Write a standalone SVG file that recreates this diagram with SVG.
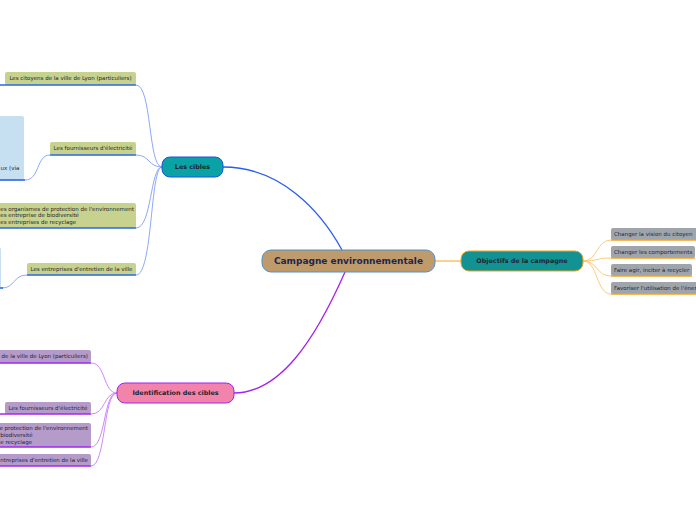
<svg xmlns="http://www.w3.org/2000/svg" width="696" height="520" viewBox="0 0 696 520">
<style>
text{font-family:"DejaVu Sans","Liberation Sans",sans-serif;fill:#1e2630}
.t{font-size:5.5px}
.mb{font-size:6.4px;font-weight:bold}
.ol{fill:#c6d28e}
.gr{fill:#a0a5ab}
.pu{fill:#b49bca}
.lb{fill:#c6dff1}
.ub{stroke:#2a66e8;stroke-width:1.6;fill:none}
.uo{stroke:#f5a31a;stroke-width:1.6;fill:none}
.up{stroke:#a326f0;stroke-width:1.6;fill:none}
.cb{stroke:#7f9ff8;stroke-width:0.9;fill:none}
.co{stroke:#fcc56a;stroke-width:0.9;fill:none}
.cp{stroke:#c87cf6;stroke-width:0.9;fill:none}
</style>
<rect width="696" height="520" fill="#ffffff"/>
<g id="connectors">
<path d="M223,167 C280,167 320,210 342,250" stroke="#2a5cf0" stroke-width="1.3" fill="none"/>
<path d="M345,272 C315,340 280,393 234,393" stroke="#a322ee" stroke-width="1.3" fill="none"/>
<path d="M435,261 L461,261" stroke="#f5a31a" stroke-width="1" fill="none"/>
<path class="cb" d="M162,167 C148,167 152,85 136,85"/>
<path class="cb" d="M162,167 C148,167 150,155 136,155"/>
<path class="cb" d="M162,167 C150,167 152,228 136,228"/>
<path class="cb" d="M162,167 C150,167 153,275 136,275"/>
<path class="cb" d="M50,155 C36,155 40,180 25,180"/>
<path class="cb" d="M27,275 C13,275 15,288 2,288"/>
<path class="co" d="M583,261 C598,261 596,240 611,240"/>
<path class="co" d="M583,261 C598,261 596,258 611,258"/>
<path class="co" d="M583,261 C598,261 596,276 611,276"/>
<path class="co" d="M583,261 C598,261 596,294 611,294"/>
<path class="cp" d="M117,393 C103,393 106,363 91,363"/>
<path class="cp" d="M117,393 C103,393 106,414 91,414"/>
<path class="cp" d="M117,393 C103,393 106,447 91,447"/>
<path class="cp" d="M117,393 C103,393 106,466 91,466"/>
</g>
<g id="central">
<rect x="262" y="250" width="173" height="22" rx="9" fill="#bf9b6b" stroke="#4b92cc" stroke-width="1"/>
<text x="348.5" y="264.3" text-anchor="middle" style="font-size:9px;font-weight:bold;fill:#1b2650">Campagne environnementale</text>
</g>
<g id="les-cibles">
<rect x="162" y="157" width="61" height="20" rx="8" fill="#0aa3a5" stroke="#2150e4" stroke-width="1"/>
<text x="192.5" y="169.3" text-anchor="middle" class="mb">Les cibles</text>
</g>
<g id="objectifs">
<rect x="461" y="251" width="122" height="20" rx="8" fill="#139293" stroke="#f2a21c" stroke-width="1"/>
<text x="522" y="263.3" text-anchor="middle" class="mb">Objectifs de la campagne</text>
</g>
<g id="identification">
<rect x="117" y="383" width="117" height="20" rx="8" fill="#f283ab" stroke="#a522f0" stroke-width="1"/>
<text x="175.5" y="395.3" text-anchor="middle" class="mb">Identification des cibles</text>
</g>
<g id="c1">
<rect class="ol" x="5" y="72" width="131" height="13" rx="2"/>
<path class="ub" d="M0,85 H136"/>
<text class="t" x="70.5" y="80.4" text-anchor="middle">Les citoyens de la ville de Lyon (particuliers)</text>
</g>
<g id="c1-sub">
<rect class="lb" x="-6" y="116" width="30" height="64" rx="2"/>
<path class="ub" d="M0,180 H25"/>
<text class="t" x="0.5" y="170">ux (via</text>
</g>
<g id="c2">
<rect class="ol" x="50" y="142" width="86" height="13" rx="2"/>
<path class="ub" d="M50,155 H136"/>
<text class="t" x="93" y="150.4" text-anchor="middle">Les fournisseurs d'électricité</text>
</g>
<g id="c3">
<rect class="ol" x="-6" y="203" width="142" height="25" rx="2"/>
<path class="ub" d="M0,228 H136"/>
<text class="t" x="0.3" y="210.6">es organismes de protection de l'environnement</text>
<text class="t" x="0.3" y="217.4">es entreprise de biodiversité</text>
<text class="t" x="0.3" y="224.2">es entreprises de recyclage</text>
</g>
<g id="c4">
<rect class="ol" x="27" y="263" width="109" height="12" rx="2"/>
<path class="ub" d="M27,275 H136"/>
<text class="t" x="81.5" y="270.9" text-anchor="middle">Les entreprises d'entretien de la ville</text>
</g>
<g id="c4-sub">
<rect class="lb" x="-6" y="248" width="7" height="40" rx="1"/>
<path class="ub" d="M0,288 H3"/>
</g>
<g id="o1">
<rect class="gr" x="611" y="228" width="90" height="12" rx="2"/>
<path class="uo" d="M611,240 H696"/>
<text class="t" x="614" y="235.9">Changer la vision du citoyen</text>
</g>
<g id="o2">
<rect class="gr" x="611" y="246" width="84" height="12" rx="2"/>
<path class="uo" d="M611,258 H695"/>
<text class="t" x="614" y="253.9">Changer les comportements</text>
</g>
<g id="o3">
<rect class="gr" x="611" y="264" width="81" height="12" rx="2"/>
<path class="uo" d="M611,276 H692"/>
<text class="t" x="614" y="271.9">Faire agir, inciter à recycler</text>
</g>
<g id="o4">
<rect class="gr" x="611" y="282" width="90" height="12" rx="2"/>
<path class="uo" d="M611,294 H696"/>
<text class="t" x="614" y="289.9">Favoriser l'utilisation de l'éner</text>
</g>
<g id="i1">
<rect class="pu" x="-10" y="350" width="101" height="13" rx="2"/>
<path class="up" d="M0,363 H91"/>
<text class="t" x="88" y="358.4" text-anchor="end">de la ville de Lyon (particuliers)</text>
</g>
<g id="i2">
<rect class="pu" x="5" y="402" width="86" height="12" rx="2"/>
<path class="up" d="M0,414 H91"/>
<text class="t" x="48" y="409.9" text-anchor="middle">Les fournisseurs d'électricité</text>
</g>
<g id="i3">
<rect class="pu" x="-50" y="423" width="141" height="24" rx="2"/>
<path class="up" d="M0,447 H91"/>
<text class="t" x="88" y="430.4" text-anchor="end">e protection de l'environnement</text>
<text class="t" x="0.3" y="437.2">biodiversité</text>
<text class="t" x="0.3" y="444">e recyclage</text>
</g>
<g id="i4">
<rect class="pu" x="-30" y="454" width="121" height="12" rx="2"/>
<path class="up" d="M0,466 H91"/>
<text class="t" x="88" y="462.1" text-anchor="end">ntreprises d'entretien de la ville</text>
</g>
</svg>
